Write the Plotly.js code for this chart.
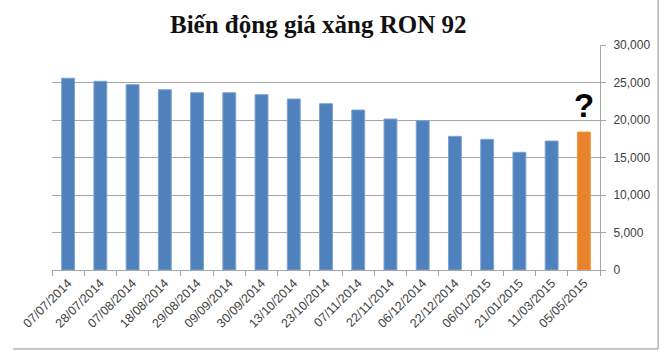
<!DOCTYPE html>
<html>
<head>
<meta charset="utf-8">
<script src="https://cdn.plot.ly/plotly-3.0.1.min.js"></script>
<style>
html,body{margin:0;padding:0;background:#fff;}
#chart{width:670px;height:350px;}
</style>
</head>
<body>
<div id="chart"></div>
<script>
const titleText = "Biến động giá xăng RON 92";
const dates = ["07/07/2014","28/07/2014","07/08/2014","18/08/2014","29/08/2014","09/09/2014","30/09/2014","13/10/2014","23/10/2014","07/11/2014","22/11/2014","06/12/2014","22/12/2014","06/01/2015","21/01/2015","11/03/2015","05/05/2015"];
const prices = [25570,25160,24710,24040,23640,23640,23380,22800,22180,21330,20130,19910,17820,17420,15690,17200,18400];
const yTickVals = [0,5000,10000,15000,20000,25000,30000];
const questionLabel = "?";

const blue = "#4F81BD", orange = "#E8832C";
const colors = dates.map((d,i) => i === dates.length - 1 ? orange : blue);
const lineColors = dates.map((d,i) => i === dates.length - 1 ? "#F39A45" : "#7EA3D3");

const trace = {
  type: "bar",
  x: dates,
  y: prices,
  marker: {color: colors, line: {color: lineColors, width: 1}},
  hoverinfo: "x+y"
};

const axisGray = "#A6A6A6";
const layout = {
  width: 670, height: 350,
  margin: {l: 52, r: 70, t: 45, b: 80},
  paper_bgcolor: "#fff", plot_bgcolor: "#fff",
  bargap: 0.6,
  showlegend: false,
  font: {family: "Liberation Sans, Arial, sans-serif", color: "#404040"},
  title: {
    text: "<b>" + titleText + "</b>",
    font: {family: "Liberation Serif, DejaVu Serif, serif", size: 25, color: "#111"},
    xref: "container", yref: "container",
    x: 0.475, xanchor: "center", y: 0.93, yanchor: "middle"
  },
  xaxis: {
    type: "category",
    tickangle: -45,
    ticks: "outside", tickson: "boundaries", ticklen: 5, tickcolor: axisGray,
    showline: true, linecolor: axisGray, linewidth: 1,
    showgrid: false,
    tickfont: {size: 12.5, color: "#404040"}
  },
  yaxis: {
    side: "right",
    range: [0, 30000],
    tickvals: yTickVals,
    tickformat: ",",
    ticks: "outside", ticklen: 5, tickcolor: axisGray,
    ticklabelstandoff: 5,
    showline: true, linecolor: axisGray, linewidth: 1,
    showgrid: true, gridcolor: axisGray, gridwidth: 1,
    zeroline: false,
    tickfont: {size: 12, color: "#404040"}
  },
  annotations: [{
    x: dates[dates.length - 1], y: prices[prices.length - 1],
    xref: "x", yref: "y",
    text: "<b>" + questionLabel + "</b>",
    showarrow: false,
    yanchor: "bottom", yshift: 6,
    font: {family: "Liberation Sans, Arial, sans-serif", size: 33, color: "#000"}
  }],
  shapes: [
    {type: "line", xref: "paper", yref: "paper", x0: 1.106, x1: 1.106, y0: 1.2, y1: -0.351,
     line: {color: "#8c8c8c", width: 1}},
    {type: "line", xref: "paper", yref: "paper", x0: -0.071, x1: 1.106, y0: -0.351, y1: -0.351,
     line: {color: "#8c8c8c", width: 1}}
  ]
};

Plotly.newPlot("chart", [trace], layout, {displayModeBar: false, staticPlot: true});
</script>
</body>
</html>
